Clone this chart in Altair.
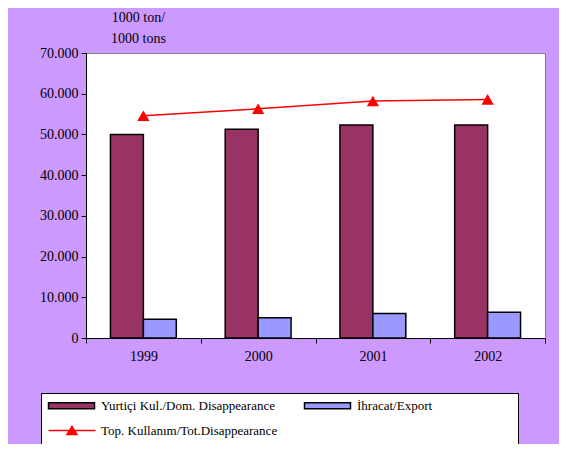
import altair as alt
import pandas as pd

years = ["1999", "2000", "2001", "2002"]
dom = [50000, 51300, 52300, 52300]
export = [4600, 5000, 6000, 6300]
total = [54600, 56300, 58200, 58600]

S_DOM = "Yurtiçi Kul./Dom. Disappearance"
S_EXP = "İhracat/Export"
S_TOT = "Top. Kullanım/Tot.Disappearance"
series = [S_DOM, S_EXP, S_TOT]
fills = ["#993366", "#9999FF", "#FF0000"]
strokes = ["black", "black", "#FF0000"]
# legend glyphs (unit = half of sqrt(symbolSize))
RECT = "M-1,-0.6H8.2V0.6H-1Z"
LINE_TRI = "M-1,0H8.4M2.7,0.8L3.7,-0.8L4.7,0.8Z"
shapes = [RECT, RECT, LINE_TRI]

bars = pd.DataFrame(
    [{"year": y, "series": S_DOM, "value": v} for y, v in zip(years, dom)]
    + [{"year": y, "series": S_EXP, "value": v} for y, v in zip(years, export)]
)
line = pd.DataFrame({"year": years, "series": S_TOT, "value": total})

FONT = "Liberation Serif"
BLANK = "\u2800" * 8  # blank glyphs: only widen the legend box


def make_legend():
    return alt.Legend(title=BLANK)


fill_enc = alt.Fill("series:N", scale=alt.Scale(domain=series, range=fills), legend=make_legend())
stroke_enc = alt.Stroke("series:N", scale=alt.Scale(domain=series, range=strokes), legend=make_legend())
shape_enc = alt.Shape("series:N", scale=alt.Scale(domain=series, range=shapes), legend=make_legend())

x_enc = alt.X(
    "year:N",
    scale=alt.Scale(paddingInner=0, paddingOuter=0),
    axis=alt.Axis(
        title=None,
        labelAngle=0,
        tickBand="extent",
        labelFont=FONT,
        labelFontSize=14,
        labelColor="black",
        domainColor="black",
        tickColor="black",
        tickSize=5,
        labelPadding=6,
    ),
)

y_enc = alt.Y(
    "value:Q",
    scale=alt.Scale(domain=[0, 70000], nice=False),
    axis=alt.Axis(
        values=[0, 10000, 20000, 30000, 40000, 50000, 60000, 70000],
        format=",d",
        grid=False,
        labelFont=FONT,
        labelFontSize=14,
        labelColor="black",
        domainColor="black",
        tickColor="black",
        tickSize=5,
        labelPadding=3,
        title=["1000 ton/", "1000 tons"],
        titleFont=FONT,
        titleFontSize=14,
        titleFontWeight="normal",
        titleColor="black",
        titleAngle=0,
        titleAlign="center",
        titleBaseline="bottom",
        titleX=52,
        titleY=-29,
        titleLineHeight=21,
    ),
)

bar_layer = alt.Chart(bars).mark_bar(strokeWidth=1.5, opacity=1).encode(
    x=x_enc,
    xOffset=alt.XOffset(
        "series:N",
        sort=[S_DOM, S_EXP],
        scale=alt.Scale(paddingInner=0, paddingOuter=0.742),
    ),
    y=y_enc,
    fill=fill_enc,
    stroke=stroke_enc,
)

line_layer = alt.Chart(line).mark_line(strokeWidth=1.5).encode(
    x=alt.X("year:N"),
    y=alt.Y("value:Q"),
    stroke=stroke_enc,
)

tri_layer = alt.Chart(line).mark_point(
    shape="triangle-up", filled=True, size=150, opacity=1, color="#FF0000"
).encode(
    x=alt.X("year:N"),
    y=alt.Y("value:Q"),
)

# carries only the legend glyphs (no data rows drawn)
legend_layer = alt.Chart(line).transform_filter("false").mark_point(
    filled=True, opacity=1
).encode(
    x=alt.X("year:N"),
    y=alt.Y("value:Q"),
    fill=fill_enc,
    stroke=stroke_enc,
    shape=shape_enc,
)

chart = (
    alt.layer(bar_layer, line_layer, tri_layer, legend_layer)
    .properties(
        width=459,
        height=285,
        autosize=alt.AutoSizeParams(type="none"),
        padding={"left": 78, "top": 45, "right": 14, "bottom": 106},
        background="#CC99FF",
    )
    .configure(
        locale={
            "number": {
                "decimal": ",",
                "thousands": ".",
                "grouping": [3],
                "currency": ["", ""],
            }
        }
    )
    .configure_legend(
        orient="none",
        direction="horizontal",
        legendX=-45,
        legendY=340,
        columns=2,
        columnPadding=23,
        rowPadding=10,
        padding=6,
        fillColor="white",
        strokeColor="black",
        labelFont=FONT,
        labelFontSize=13,
        labelColor="black",
        labelOffset=41,
        labelLimit=400,
        symbolSize=100,
        symbolStrokeWidth=1.5,
        symbolOpacity=1,
        titleOrient="right",
        titleColor="white",
        titleFont=FONT,
        titleFontSize=13,
        titlePadding=0,
        titleLimit=400,
    )
    .configure_view(fill="white", stroke="#808080", strokeWidth=1)
)

chart.save("out.html", embed_options={"renderer": "svg", "actions": False})
